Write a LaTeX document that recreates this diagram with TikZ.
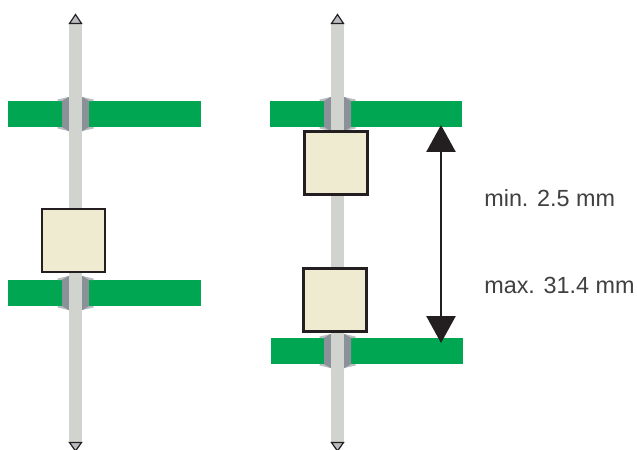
\documentclass[tikz,border=0pt]{standalone}
\usepackage{fontspec}
\setmainfont{Liberation Sans}
\usepackage{tikz}
\usetikzlibrary{arrows.meta}

\definecolor{boardgreen}{HTML}{00A651}
\definecolor{pingrey}{HTML}{D1D3CE}
\definecolor{collargrey}{HTML}{8A9199}
\definecolor{lipgrey}{HTML}{B9BDC0}
\definecolor{boxcream}{HTML}{EFEBD0}
\definecolor{inkblack}{HTML}{231F20}

\tikzset{
  board/.style={fill=boardgreen,minimum width=3.86cm,minimum height=0.52cm,inner sep=0pt},
  spacer/.style={draw=inkblack,line width=1.3pt,fill=boxcream,minimum width=1.26cm,minimum height=1.26cm,inner sep=0pt},
  pin/.style={draw=pingrey,line width=0.26cm},
  tip/.style={draw=inkblack,line width=0.7pt,fill=lipgrey,line join=miter},
  gap/.style={draw=inkblack,line width=1.5pt,{Triangle[length=0.54cm,width=0.58cm]}-{Triangle[length=0.54cm,width=0.58cm]},shorten >=0pt},
  dimlabel/.style={anchor=west,inner sep=0pt,font=\fontsize{13.3}{16}\selectfont,text=black!75}
}

% collar of a through-hole, drawn round the pin
\newcommand{\collar}[2]{
  \begin{scope}[shift={(#1,#2)}]
    \fill[lipgrey] (-18,-14.5) -- (-7,-17) -- (7,-17) -- (18,-14.5) -- (18,-13) -- (-18,-13) -- cycle;
    \fill[lipgrey] (-18,14.5) -- (-7,17) -- (7,17) -- (18,14.5) -- (18,13) -- (-18,13) -- cycle;
    \fill[collargrey] (-7,-17) -- (-13.5,-13) -- (-13.5,13) -- (-7,17) -- (7,17) -- (13.5,13) -- (13.5,-13) -- (7,-17) -- cycle;
  \end{scope}
}

\begin{document}
\begin{tikzpicture}[x=0.02cm,y=-0.02cm]
\useasboundingbox (0,0) rectangle (637,450);

% left side
\node[board] (b_1) at (104.5,114) {};
\node[board] (b_2) at (104.5,293) {};
\coordinate (p_1) at (75.5,22);
\coordinate (p_2) at (75.5,442);
\collar{75.5}{114}
\collar{75.5}{293}
\draw[pin] (p_1) -- (p_2);
\draw[tip] (69.5,23.5) -- (75.5,14.5) -- (81.5,23.5) -- cycle;
\draw[tip] (69.5,442.5) -- (75.5,451) -- (81.5,442.5) -- cycle;
\node[spacer] (s_1) at (73.5,240.5) {};

% right side
\node[board] (b_3) at (366,114) {};
\node[board] (b_4) at (367,351) {};
\coordinate (p_3) at (337.5,22);
\coordinate (p_4) at (337.5,442);
\collar{337.5}{114}
\collar{337.5}{351}
\draw[pin] (p_3) -- (p_4);
\draw[tip] (331.5,23.5) -- (337.5,14.5) -- (343.5,23.5) -- cycle;
\draw[tip] (331.5,442.5) -- (337.5,451) -- (343.5,442.5) -- cycle;
\node[spacer] (s_2) at (336,163) {};
\node[spacer] (s_3) at (335,300) {};

% distance between the boards
\coordinate (d_1) at (441,125);
\coordinate (d_2) at (441,343);
\draw[gap] (d_1) -- (d_2);
\node[dimlabel] (t_1) at (484,198) {min. 2.5 mm};
\node[dimlabel] (t_2) at (484,285) {max. 31.4 mm};
\end{tikzpicture}
\end{document}
